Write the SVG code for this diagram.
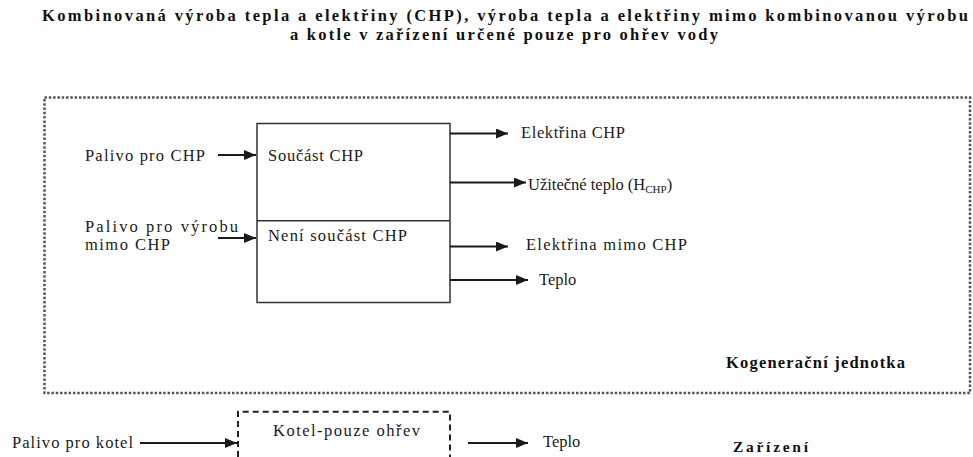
<svg xmlns="http://www.w3.org/2000/svg" width="973" height="457" viewBox="0 0 973 457">
<defs>
<marker id="ah" viewBox="0 0 12 10" refX="12" refY="5" markerWidth="12" markerHeight="10" markerUnits="userSpaceOnUse" orient="auto">
<path d="M0,0 L12,5 L0,10 Z" fill="#1a1a1a"/>
</marker>
<style>
.arrow{stroke:#1a1a1a;stroke-width:2;fill:none;marker-end:url(#ah)}
.box{fill:none;stroke:#333;stroke-width:1.5}
.dotted{fill:none;stroke:#555;stroke-width:2.5;stroke-dasharray:2.5 1.8}
.dashed{fill:none;stroke:#222;stroke-width:2;stroke-dasharray:6 4}
</style>
</defs>
<rect width="973" height="457" fill="#fff"/>
<g font-family="Liberation Serif, DejaVu Serif, serif" font-size="16.5" fill="#1a1a1a">
<g id="title" font-weight="bold" fill="#111" font-size="16.5">
<text x="42" y="21" textLength="926" lengthAdjust="spacing">Kombinovaná výroba tepla a elektřiny (CHP), výroba tepla a elektřiny mimo kombinovanou výrobu</text>
<text x="290" y="40" textLength="428" lengthAdjust="spacing">a kotle v zařízení určené pouze pro ohřev vody</text>
</g>
<g id="kogeneracni-jednotka">
<rect class="dotted" x="44.5" y="97.5" width="925.5" height="295.5"/>
<text x="726" y="368" font-weight="bold" fill="#111" textLength="179" lengthAdjust="spacing">Kogenerační jednotka</text>
</g>
<g id="chp-box">
<rect class="box" x="257" y="123.5" width="193" height="179"/>
<line class="box" x1="257" y1="220.7" x2="450" y2="220.7"/>
<text x="268" y="161" textLength="95" lengthAdjust="spacing">Součást CHP</text>
<text x="268" y="241" textLength="139" lengthAdjust="spacing">Není součást CHP</text>
</g>
<g id="inputs">
<text x="85" y="161" textLength="120" lengthAdjust="spacing">Palivo pro CHP</text>
<text x="85" y="232" textLength="153" lengthAdjust="spacing">Palivo pro výrobu</text>
<text x="85" y="250" textLength="85" lengthAdjust="spacing">mimo CHP</text>
</g>
<g id="outputs">
<text x="521" y="138" textLength="104" lengthAdjust="spacing">Elektřina CHP</text>
<text x="528" y="190">Užitečné teplo (H<tspan font-size="11" dy="3">CHP</tspan><tspan dy="-3">)</tspan></text>
<text x="526" y="250" textLength="161" lengthAdjust="spacing">Elektřina mimo CHP</text>
<text x="539" y="285">Teplo</text>
</g>
<g id="kotel">
<path class="dashed" d="M238,457 L238,411.7 L450,411.7 L450,457"/>
<text x="273" y="436" textLength="147" lengthAdjust="spacing">Kotel-pouze ohřev</text>
</g>
<g id="kotel-io">
<text x="12" y="448" textLength="121" lengthAdjust="spacing">Palivo pro kotel</text>
<text x="543" y="447">Teplo</text>
</g>
<g id="zarizeni">
<text x="733" y="452" font-weight="bold" font-size="15.5" fill="#111" textLength="75" lengthAdjust="spacing">Zařízení</text>
</g>
</g>
<g id="connectors">
<line class="arrow" x1="218" y1="155" x2="256" y2="155"/>
<line class="arrow" x1="218" y1="238" x2="256" y2="238"/>
<line class="arrow" x1="450" y1="133.5" x2="508" y2="133.5"/>
<line class="arrow" x1="450" y1="182.5" x2="526" y2="182.5"/>
<line class="arrow" x1="450" y1="246.5" x2="508" y2="246.5"/>
<line class="arrow" x1="450" y1="280" x2="528" y2="280"/>
<line class="arrow" x1="140" y1="443" x2="237" y2="443"/>
<line class="arrow" x1="468" y1="443" x2="528" y2="443"/>
</g>
</svg>
